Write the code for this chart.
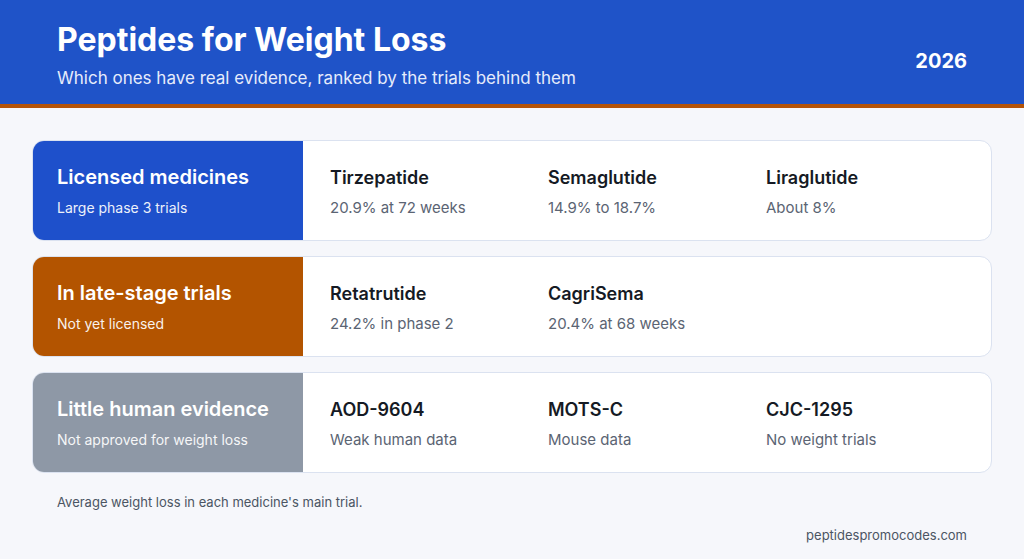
<!DOCTYPE html>
<html><head><meta charset="utf-8">
<script src="https://cdn.jsdelivr.net/npm/chart.js@4"></script>
<style>
body{margin:0;width:1024px;height:559px;background:#f6f7fb;font-family:Inter,"Noto Sans",sans-serif;position:relative;overflow:hidden}
#hdr{position:absolute;left:0;top:0;width:1024px;height:104px;background:#1f53c8;border-bottom:4px solid #b45309}
#hdr h1{position:absolute;left:57px;top:20px;margin:0;color:#fff;font-size:32px;font-weight:700}
#hdr .sub{position:absolute;left:57px;top:68px;color:#e6ecfb;font-size:17px}
#hdr .yr{position:absolute;right:57px;top:49px;color:#fff;font-size:20px;font-weight:700}
.card{position:absolute;left:32px;width:958px;height:99px;background:#fff;border:1.5px solid #dbe2f0;border-radius:12px;overflow:hidden}
.lab{position:absolute;left:0;top:0;width:270px;height:100%;color:#fff}
.lab .t{position:absolute;left:24px;top:24px;font-size:20px;font-weight:600}
.lab .s{position:absolute;left:24px;top:58px;font-size:14px;opacity:.92}
.it{position:absolute;top:26px}
.it .n{font-size:18px;font-weight:600;color:#151a24}
.it .v{font-size:15px;color:#5b6473;margin-top:10px}
.foot{position:absolute;left:57px;top:494px;font-size:13px;color:#4b5563}
.url{position:absolute;right:57px;top:527px;font-size:13px;color:#4b5563}
</style></head><body>
<div id="hdr"><h1>Peptides for Weight Loss</h1><div class="sub">Which ones have real evidence, ranked by the trials behind them</div><div class="yr">2026</div></div>
<div id="rows"></div>
<div class="foot">Average weight loss in each medicine's main trial.</div>
<div class="url">peptidespromocodes.com</div>
<script>
const groups = ['Licensed medicines', 'In late-stage trials', 'Little human evidence'];
const groupNotes = ['Large phase 3 trials', 'Not yet licensed', 'Not approved for weight loss'];
const groupColors = ['#1e50cb', '#b35400', '#8e98a6'];
const peptides = [
  ['Tirzepatide', 'Semaglutide', 'Liraglutide'],
  ['Retatrutide', 'CagriSema'],
  ['AOD-9604', 'MOTS-C', 'CJC-1295']
];
const results = [
  ['20.9% at 72 weeks', '14.9% to 18.7%', 'About 8%'],
  ['24.2% in phase 2', '20.4% at 68 weeks'],
  ['Weak human data', 'Mouse data', 'No weight trials']
];
const rows = document.getElementById('rows');
groups.forEach((g, i) => {
  const c = document.createElement('div');
  c.className = 'card';
  c.style.top = (140 + i * 116) + 'px';
  let html = `<div class="lab" style="background:${groupColors[i]}"><div class="t">${g}</div><div class="s">${groupNotes[i]}</div></div>`;
  peptides[i].forEach((p, j) => {
    html += `<div class="it" style="left:${297 + j * 218}px"><div class="n">${p}</div><div class="v">${results[i][j]}</div></div>`;
  });
  c.innerHTML = html;
  rows.appendChild(c);
});
</script>
</body></html>
